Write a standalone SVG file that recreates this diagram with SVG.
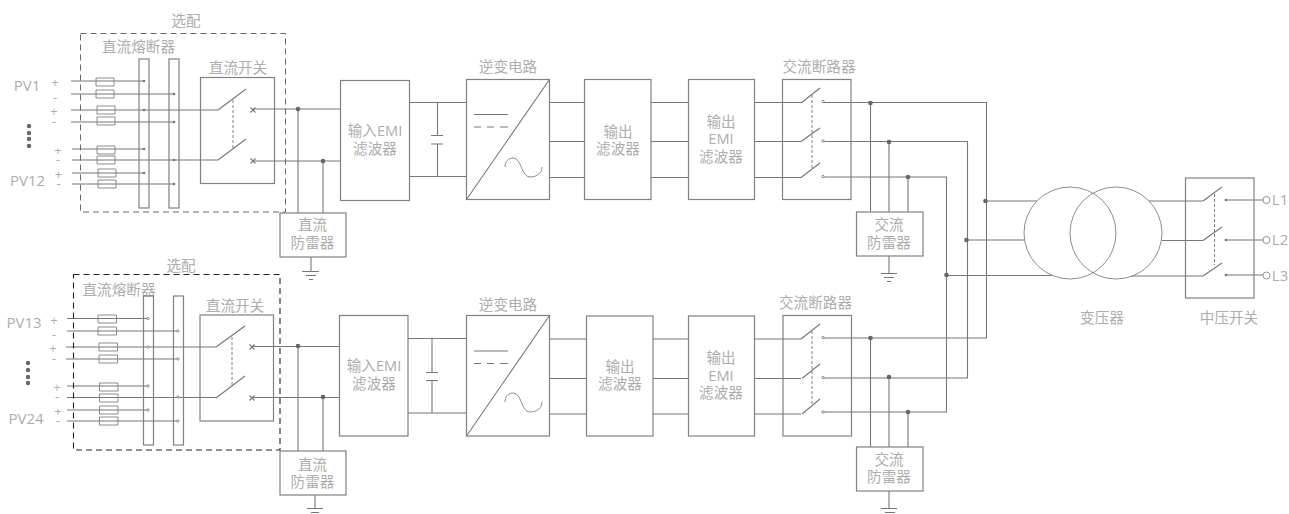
<svg xmlns="http://www.w3.org/2000/svg" width="1289" height="514" viewBox="0 0 1289 514">
<style>
.b{fill:none;stroke:#808080;stroke-width:1.2}
.w{fill:none;stroke:#777;stroke-width:1.1}
.t{fill:none;stroke:#808080;stroke-width:.9}
.d{fill:none;stroke:#808080;stroke-width:1;stroke-dasharray:3 2}
.dot{fill:#666}
.sd{fill:#777}
.o{fill:#fff;stroke:#777;stroke-width:.8}
text{font-family:"Open Sans","Noto Sans CJK SC",sans-serif;font-size:14.6px;fill:#adadad;text-anchor:middle}
.p{font-size:15px}
.s{font-size:13px}
</style>
<rect width="1289" height="514" fill="#fff"/>
<g id="connectors">
<path class="w" d="M71 81H144M71 94H174M71 110H218M71 122H174M72 149H144M72 160H218M72 173H144M72 184H174"/>
<path class="w" d="M253 109H341M253 161H341M298 109V213M323 161V213M311 257V271M302 271.500H319M306 275.500H316M309 279.500H313"/>
<path class="w" d="M67 318.500H148M67 331H178M66 347H216M66 359H178M67 386H148M67 397.500H216M67 410H148M67 421H178"/>
<path class="w" d="M252 346.500H340M252 397.500H340M298 346V451M323 397V451M315 495V508M307 508.500H323M311 512.500H319"/>
<path class="w" d="M409 102.500H466M409 176.500H466M437.500 102V135M431 135.500H443M431 144H443M437.500 144V176M549 102.500H584M549 141.500H584M549 177.500H584M651 102.500H688M651 141.500H688M651 177.500H688M754 102.500H801M754 141.500H801M754 177.500H801"/>
<path class="w" d="M408 338.500H466M408 413H466M432 338V372M426 372.500H438M426 380.500H438M432 380V413M549 339H586M549 378.500H586M549 414H586M653 339H688M653 378.500H688M653 414H688M754 339H801M754 378.500H801M754 414H801"/>
<path class="w" d="M823 102.500H986.500V338H823M823 141.500H967.500V378H823M823 177H946.500V412H823"/>
<path class="w" d="M870.500 103V212M889 142V212M908 177V212M889 256V273M881 273.500H897M884 277.500H894M887 281.500H891"/>
<path class="w" d="M870.500 338V447M889 377V447M908 412V447M889 491V508M881 508.500H897M885 512.500H895"/>
<path class="w" d="M986 201H1037M967 240H1024M947 275.500H1052M1149 201H1203M1162 240.500H1203M1132 276H1203M1226 200H1263M1226 240H1263M1226 275H1263"/>
<g class="dot"><circle cx="298" cy="109" r="2.300"/><circle cx="323" cy="161" r="2.300"/><circle cx="298" cy="346" r="2.300"/><circle cx="323" cy="397" r="2.300"/><circle cx="870.500" cy="103" r="2.300"/><circle cx="889" cy="142" r="2.300"/><circle cx="908" cy="177" r="2.300"/><circle cx="870.500" cy="338" r="2.300"/><circle cx="889" cy="377" r="2.300"/><circle cx="908" cy="412" r="2.300"/><circle cx="985.500" cy="201" r="2.300"/><circle cx="966.500" cy="240" r="2.300"/><circle cx="946.500" cy="275" r="2.300"/></g>
</g>
<g id="optional-top">
<rect x="80.500" y="33.500" width="205" height="178.500" fill="none" stroke="#666" stroke-width="1" stroke-dasharray="6 4"/>
<text x="186" y="26">选配</text>
</g>
<g id="fuse-top">
<text x="138.500" y="52">直流熔断器</text>
<rect class="b" x="139" y="59" width="10" height="149"/><rect class="b" x="169" y="59" width="10" height="149"/>
<path class="t" d="M96 78h18v8h-18zM96 90h18v8h-18zM97 106h18v8h-18zM97 117h18v8h-18zM97 146h18v8h-18zM97 156h18v8h-18zM98 169h18v8h-18zM98 180h18v8h-18z"/>
<g class="sd"><circle cx="144" cy="81" r="1.300"/><circle cx="174" cy="94" r="1.300"/><circle cx="144" cy="110" r="1.300"/><circle cx="174" cy="122" r="1.300"/><circle cx="144" cy="149" r="1.300"/><circle cx="174" cy="160" r="1.300"/><circle cx="144" cy="173" r="1.300"/><circle cx="174" cy="184" r="1.300"/></g>
</g>
<g id="pv-top">
<text class="p" x="27" y="91">PV1</text><text class="p" x="27.500" y="186">PV12</text>
<text class="s" x="55" y="87">+</text><text class="s" x="55" y="102">-</text><text class="s" x="54" y="116">+</text><text class="s" x="54" y="126">-</text><text class="s" x="58" y="155">+</text><text class="s" x="58" y="164">-</text><text class="s" x="58.500" y="179">+</text><text class="s" x="58.500" y="188">-</text>
<g class="dot"><circle cx="29" cy="126" r="2.200"/><circle cx="29" cy="133" r="2.200"/><circle cx="29" cy="139" r="2.200"/><circle cx="29" cy="146" r="2.200"/></g>
</g>
<g id="dc-switch-top">
<text x="238" y="73">直流开关</text>
<rect class="b" x="200.500" y="77.500" width="74" height="106"/>
<path class="w" d="M218 110L246 89M218 160L246 139M250.500 107.500l5 5M250.500 112.500l5-5M250.500 158.500l5 5M250.500 163.500l5-5"/>
<path class="d" d="M233 100V150"/>
</g>
<g id="dc-spd-top">
<rect class="b" x="280" y="213" width="66" height="44"/>
<text x="312.500" y="230">直流</text><text x="312.500" y="248">防雷器</text>
</g>
<g id="emi-in-top">
<rect class="b" x="340.500" y="80.500" width="69" height="120"/>
<text x="375" y="136">输入EMI</text><text x="375" y="154">滤波器</text>
</g>
<g id="inverter-top">
<text x="508" y="72">逆变电路</text>
<rect class="b" x="466.500" y="79.500" width="83" height="120"/>
<path class="w" d="M466.500 199.500L549.500 79.500M474 114.500H508M474 127H481M487 127H494M500 127H508"/>
<path class="t" d="M505 167C505 161 509 158 513 158C522 158 521 177 530 177C537 177 542 173 542 167"/>
</g>
<g id="filter-top">
<rect class="b" x="584.500" y="79.500" width="66.500" height="120"/>
<text x="618" y="137">输出</text><text x="618" y="154">滤波器</text>
</g>
<g id="emi-out-top">
<rect class="b" x="688.500" y="79.500" width="66" height="120"/>
<text x="721" y="127">输出</text><text x="721" y="144">EMI</text><text x="721" y="162">滤波器</text>
</g>
<g id="ac-breaker-top">
<text x="819" y="72">交流断路器</text>
<rect class="b" x="782.500" y="79.500" width="68.500" height="120"/>
<path class="w" d="M801 103L820 88M801 141.500L820 128M801 177.500L820 163"/>
<path class="d" d="M812 95V168"/>
<circle class="o" cx="823" cy="101.500" r="1.200"/><circle class="o" cx="823" cy="141" r="1.200"/><circle class="o" cx="823" cy="176.500" r="1.200"/>
</g>
<g id="ac-spd-top">
<rect class="b" x="856.500" y="212" width="66.500" height="44"/>
<text x="889" y="230">交流</text><text x="889" y="248">防雷器</text>
</g>
<g id="transformer">
<circle class="t" cx="1070" cy="233" r="46"/><circle class="t" cx="1116" cy="233" r="46"/>
<text x="1102" y="323">变压器</text>
</g>
<g id="mv-switch">
<rect class="b" x="1185.500" y="178" width="68.500" height="120"/>
<path class="w" d="M1203 201L1222 187M1203 240.500L1222 227M1203 276L1222 263"/>
<path class="d" d="M1214.500 194V265"/>
<g class="sd"><circle cx="1226" cy="200" r="1.300"/><circle cx="1226" cy="240" r="1.300"/><circle cx="1226" cy="275" r="1.300"/></g>
<circle class="o" cx="1266.500" cy="200" r="3.500"/><circle class="o" cx="1266.500" cy="240" r="3.500"/><circle class="o" cx="1266.500" cy="275.500" r="3.500"/>
<text class="p" x="1280" y="205">L1</text><text class="p" x="1280" y="245">L2</text><text class="p" x="1280" y="281">L3</text>
<text x="1229" y="323">中压开关</text>
</g>
<g id="optional-bottom">
<rect x="73.500" y="274.500" width="206.500" height="175.500" fill="none" stroke="#222" stroke-width="1.100" stroke-dasharray="6 4"/>
<text x="181" y="271">选配</text>
</g>
<g id="fuse-bottom">
<text x="119" y="295">直流熔断器</text>
<rect class="b" x="143.500" y="296" width="10" height="149"/><rect class="b" x="173.500" y="296" width="10" height="149"/>
<path class="t" d="M98 315h18.500v8h-18.500zM98 327h18.500v8h-18.500zM99 343h18.500v8h-18.500zM99 355h18.500v8h-18.500zM99.500 383h18.500v8h-18.500zM99.500 394h18.500v8h-18.500zM99.500 406h18.500v8h-18.500zM99.500 417h18.500v8h-18.500z"/>
<g class="o"><circle cx="148" cy="318.500" r="1.200"/><circle cx="178" cy="331" r="1.200"/><circle cx="148" cy="347" r="1.200"/><circle cx="178" cy="359" r="1.200"/><circle cx="148" cy="386" r="1.200"/><circle cx="178" cy="397" r="1.200"/><circle cx="148" cy="410" r="1.200"/><circle cx="178" cy="421" r="1.200"/></g>
</g>
<g id="pv-bottom">
<text class="p" x="24" y="328">PV13</text><text class="p" x="26" y="424">PV24</text>
<text class="s" x="54" y="325">+</text><text class="s" x="54" y="339">-</text><text class="s" x="53" y="353">+</text><text class="s" x="54" y="363">-</text><text class="s" x="57" y="392">+</text><text class="s" x="57" y="401">-</text><text class="s" x="58" y="416">+</text><text class="s" x="58" y="425">-</text>
<g class="dot"><circle cx="28" cy="363" r="2.200"/><circle cx="28" cy="370" r="2.200"/><circle cx="28" cy="377" r="2.200"/><circle cx="28" cy="383" r="2.200"/></g>
</g>
<g id="dc-switch-bottom">
<text x="235" y="311">直流开关</text>
<rect class="b" x="200" y="315" width="73.500" height="106"/>
<path class="w" d="M216 347L245 326M216 398L245 376M249.500 344.500l5 5M249.500 349.500l5-5M249.500 395.500l5 5M249.500 400.500l5-5"/>
<path class="d" d="M232 337V385"/>
</g>
<g id="dc-spd-bottom">
<rect class="b" x="280" y="451" width="66" height="44"/>
<text x="312.500" y="470">直流</text><text x="312.500" y="487">防雷器</text>
</g>
<g id="emi-in-bottom">
<rect class="b" x="339.500" y="315.500" width="68.500" height="120.500"/>
<text x="374" y="371">输入EMI</text><text x="374" y="389">滤波器</text>
</g>
<g id="inverter-bottom">
<text x="508" y="310">逆变电路</text>
<rect class="b" x="466.500" y="315.500" width="83" height="120.500"/>
<path class="w" d="M466.500 436L549.500 315.500M474 351H508M474 363.500H481M487 363.500H494M500 363.500H508"/>
<path class="t" d="M505 402C505 396 509 393 513 393C522 393 521 412 530 412C537 412 542 408 542 402"/>
</g>
<g id="filter-bottom">
<rect class="b" x="586.500" y="316" width="66.500" height="120"/>
<text x="620" y="372">输出</text><text x="620" y="389">滤波器</text>
</g>
<g id="emi-out-bottom">
<rect class="b" x="688.500" y="316" width="66" height="120"/>
<text x="721" y="363">输出</text><text x="721" y="381">EMI</text><text x="721" y="398">滤波器</text>
</g>
<g id="ac-breaker-bottom">
<text x="815.500" y="308">交流断路器</text>
<rect class="b" x="783" y="315.500" width="68.500" height="120.500"/>
<path class="w" d="M801 339L820 324M802 378.500L820 364M802 414L820 399"/>
<path class="d" d="M812 331V404"/>
<circle class="o" cx="823" cy="337.500" r="1.200"/><circle class="o" cx="823" cy="377.500" r="1.200"/><circle class="o" cx="823" cy="412" r="1.200"/>
</g>
<g id="ac-spd-bottom">
<rect class="b" x="856.500" y="447" width="66.500" height="44"/>
<text x="889" y="465">交流</text><text x="889" y="482">防雷器</text>
</g>
</svg>
